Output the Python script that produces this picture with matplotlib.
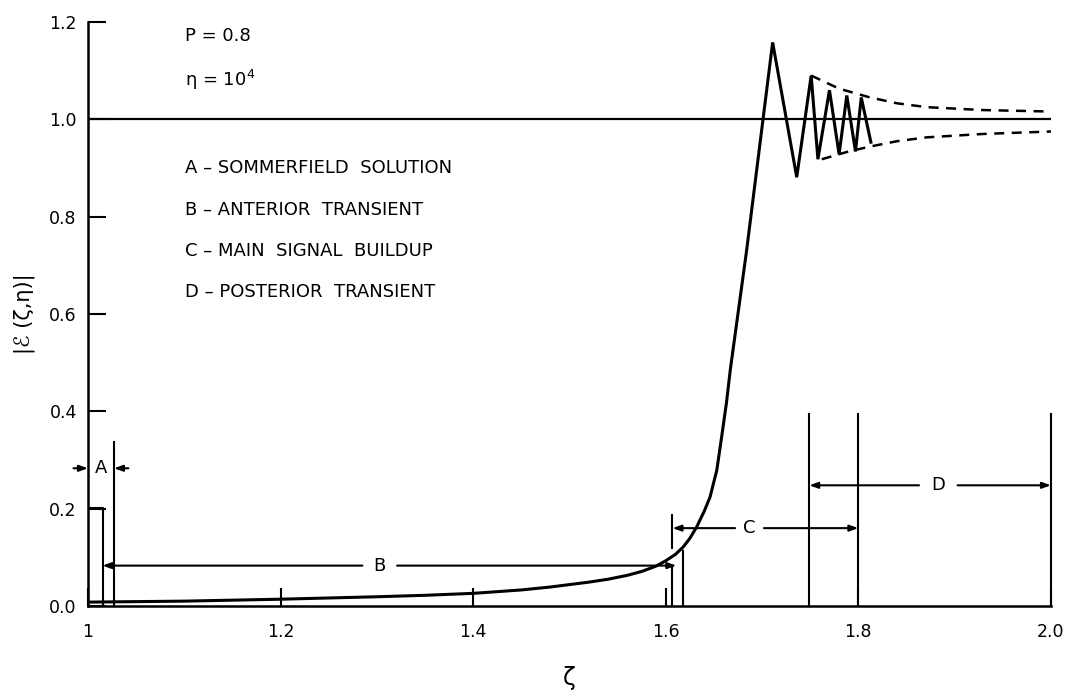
import matplotlib
matplotlib.use('Agg')
import matplotlib.pyplot as plt

# main curve |E(zeta, eta)|
zeta = [1.0, 1.1, 1.2, 1.3, 1.35, 1.4, 1.45, 1.48, 1.5, 1.52, 1.54, 1.56,
        1.575, 1.59, 1.6, 1.61, 1.618, 1.625, 1.632, 1.64, 1.646, 1.653,
        1.658, 1.663, 1.667, 1.684, 1.701, 1.711, 1.736, 1.751, 1.758, 1.770,
        1.780, 1.788, 1.797, 1.803, 1.813]
amp = [0.008, 0.010, 0.014, 0.019, 0.022, 0.026, 0.033, 0.039, 0.044, 0.049,
       0.055, 0.063, 0.071, 0.082, 0.093, 0.106, 0.121, 0.139, 0.162, 0.195,
       0.224, 0.279, 0.347, 0.417, 0.485, 0.731, 1.0, 1.158, 0.881, 1.090,
       0.918, 1.060, 0.928, 1.049, 0.934, 1.045, 0.953]

# dashed envelopes
env_up_x = [1.751, 1.78, 1.812, 1.84, 1.871, 1.93, 2.0]
env_up_y = [1.090, 1.063, 1.045, 1.033, 1.025, 1.019, 1.016]
env_lo_x = [1.762, 1.79, 1.812, 1.84, 1.871, 1.93, 2.0]
env_lo_y = [0.918, 0.934, 0.944, 0.955, 0.963, 0.970, 0.975]

xticks = [1.0, 1.2, 1.4, 1.6, 1.8, 2.0]
xticklabels = ['1', '1.2', '1.4', '1.6', '1.8', '2.0']
yticks = [0.0, 0.2, 0.4, 0.6, 0.8, 1.0, 1.2]
yticklabels = ['0.0', '0.2', '0.4', '0.6', '0.8', '1.0', '1.2']

legend_lines = ['A \u2013 SOMMERFIELD  SOLUTION', 'B \u2013 ANTERIOR  TRANSIENT',
                'C \u2013 MAIN  SIGNAL  BUILDUP', 'D \u2013 POSTERIOR  TRANSIENT']

# region boundaries (zeta) for the annotations
a_bounds = (1.0, 1.027)
b_bounds = (1.015, 1.611)
c_bounds = (1.607, 1.8)
d_bounds = (1.749, 2.0)

fig = plt.figure(figsize=(10.7, 6.96), dpi=100)
ax = fig.add_axes([0.0822, 0.1293, 0.9, 0.8391])

lw_ann = 1.5
k = 'black'

ax.plot(zeta, amp, color=k, lw=2.2, solid_joinstyle='miter')
ax.plot(env_up_x, env_up_y, color=k, lw=1.8, ls=(0, (4, 3)))
ax.plot(env_lo_x, env_lo_y, color=k, lw=1.8, ls=(0, (4, 3)))
ax.plot([1.0, 2.0], [1.0, 1.0], color=k, lw=1.6)

ax.set_xlim(1.0, 2.0)
ax.set_ylim(0.0, 1.2)
ax.spines['top'].set_visible(False)
ax.spines['right'].set_visible(False)
ax.spines['left'].set_linewidth(1.8)
ax.spines['bottom'].set_linewidth(1.8)
ax.set_xticks(xticks)
ax.set_xticklabels(xticklabels)
ax.set_yticks(yticks)
ax.set_yticklabels(yticklabels)
ax.tick_params(axis='both', direction='in', length=13, width=1.5, labelsize=12.5)
ax.tick_params(axis='x', pad=12)
ax.tick_params(axis='y', pad=8)

ax.set_ylabel('|\u2130 (\u03b6,\u03b7)|', fontsize=15, labelpad=10)
ax.set_xlabel('\u03b6', fontsize=17, labelpad=18)


def arrow(x0, x1, y):
    ax.annotate('', xy=(x1, y), xytext=(x0, y), annotation_clip=False,
                arrowprops=dict(arrowstyle='-|>,head_length=0.5,head_width=0.18',
                                color=k, lw=lw_ann, shrinkA=0, shrinkB=0))


def vline(x, y0, y1):
    ax.plot([x, x], [y0, y1], color=k, lw=lw_ann, clip_on=False)


# A: Sommerfield solution
vline(a_bounds[1], 0.0, 0.337)
arrow(a_bounds[0] - 0.015, a_bounds[0], 0.283)
arrow(a_bounds[1] + 0.015, a_bounds[1], 0.283)
ax.text(sum(a_bounds) / 2, 0.283, 'A', ha='center', va='center', fontsize=13)
ax.plot([1.0, 1.0157, 1.0157], [0.201, 0.201, 0.0], color=k, lw=lw_ann)

# B: anterior transient
yb = 0.083
xb = 1.303
arrow(xb - 0.018, b_bounds[0], yb)
arrow(xb + 0.018, b_bounds[1], yb)
ax.text(xb, yb, 'B', ha='center', va='center', fontsize=13)
vline(1.606, 0.0, 0.083)
vline(1.618, 0.0, 0.113)

# C: main signal buildup
yc = 0.160
xc = 1.687
vline(c_bounds[0], 0.119, 0.187)
arrow(xc - 0.015, c_bounds[0], yc)
arrow(xc + 0.015, c_bounds[1], yc)
ax.text(xc, yc, 'C', ha='center', va='center', fontsize=13)

# D: posterior transient
yd = 0.248
xd = 1.883
for xv in (1.749, 1.8, 2.0):
    vline(xv, 0.0, 0.394)
arrow(xd - 0.02, d_bounds[0], yd)
arrow(xd + 0.02, d_bounds[1], yd)
ax.text(xd, yd, 'D', ha='center', va='center', fontsize=13)

# parameter text and legend
ax.text(1.101, 1.172, 'P = 0.8', ha='left', va='center', fontsize=13)
ax.text(1.101, 1.080, '\u03b7 = 10$^4$', ha='left', va='center', fontsize=13)
for i, s in enumerate(legend_lines):
    ax.text(1.101, 0.899 - i * 0.0847, s, ha='left', va='center', fontsize=13)

fig.savefig('out.png', dpi=100)
